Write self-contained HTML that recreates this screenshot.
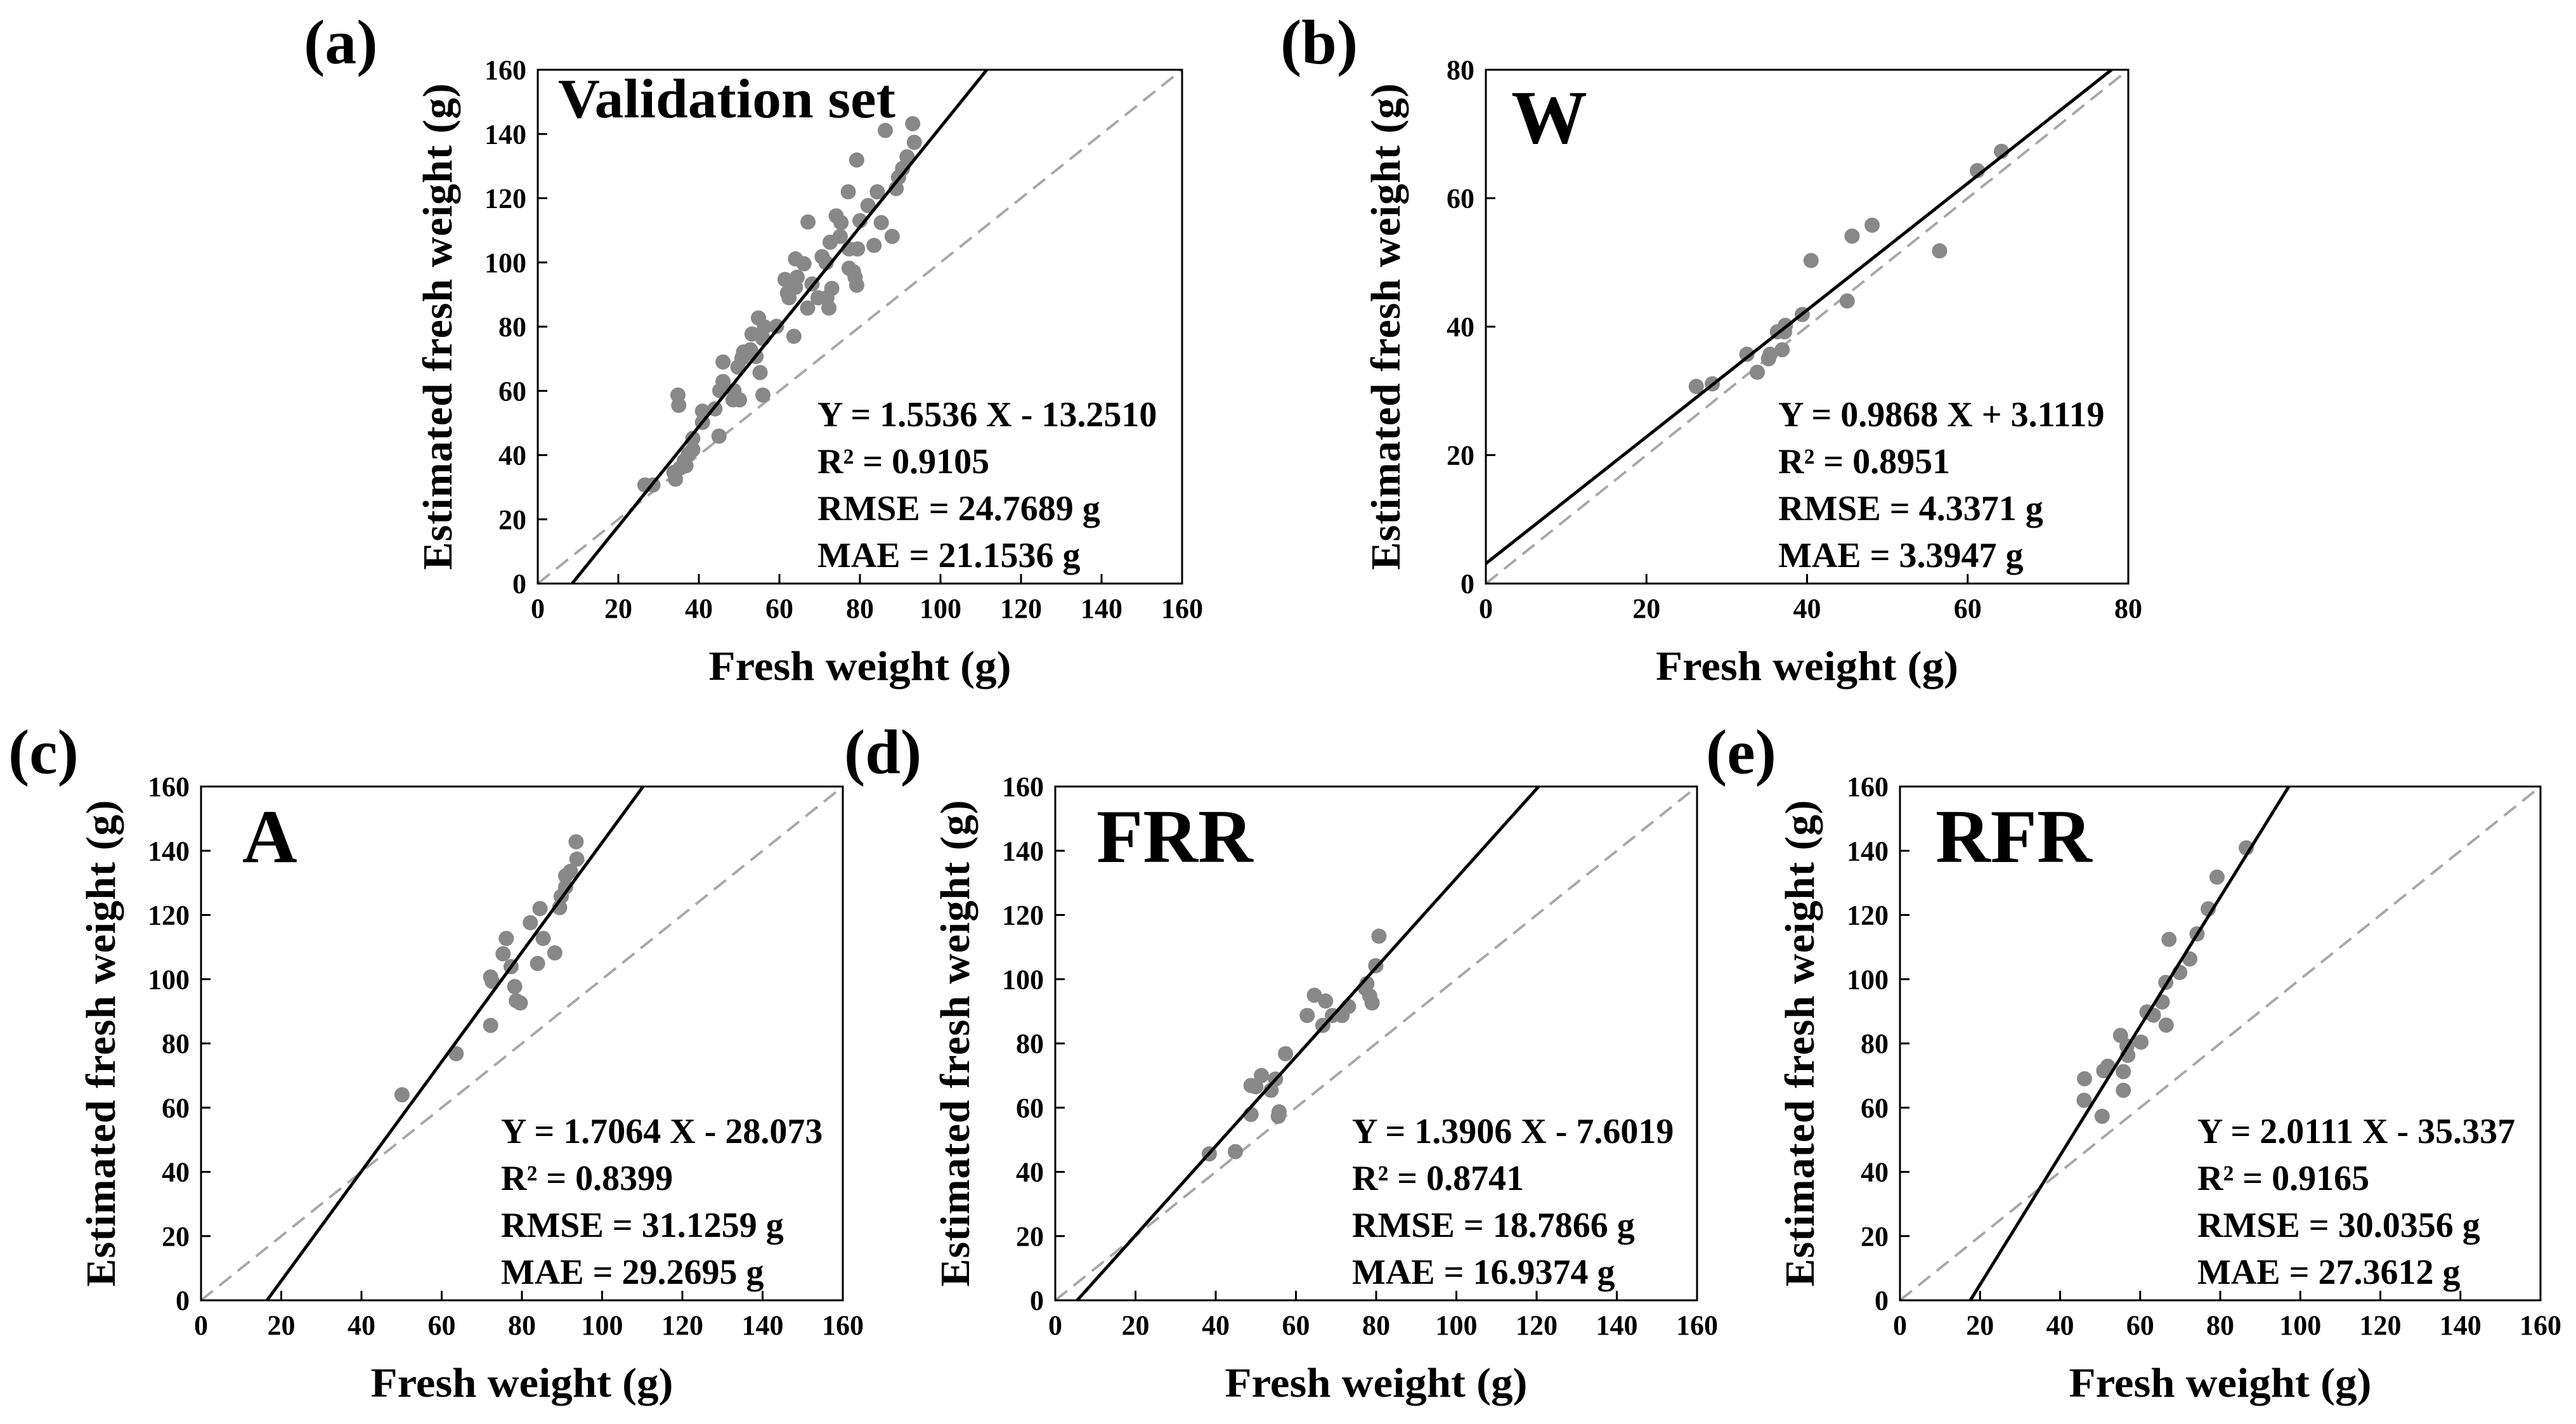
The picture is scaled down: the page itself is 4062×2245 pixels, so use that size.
<!DOCTYPE html>
<html><head><meta charset="utf-8"><style>
html,body{margin:0;padding:0;background:#fff;}
svg{display:block;}
text{font-family:"Liberation Serif",serif;font-weight:bold;fill:#000;}
</style></head><body>
<svg id="fig" xmlns="http://www.w3.org/2000/svg" width="4062" height="2245" viewBox="0 0 4062 2245">
<rect width="4062" height="2245" fill="#fff"/>
</svg>
<script>
// ---- data ----
const aX=[93.1,86.3,93.5,79.2,91.7,90.6,89.6,89.0,77.1,84.3,82.0,85.3,67.1,74.1,75.3,80,75.1,88,72.6,83.5,79.4,77.3,64,66.1,70.6,71.6,77.3,78.4,64.4,61.4,68.1,78.8,79.2,69.6,71.8,62.4,62,67,72.3,64.0,73,63.6,54.8,56.3,59.3,55.9,52.8,51.1,54.2,46,49.7,50.7,55.2,46,45.2,48.7,55.9,48.5,50.1,34.8,35,40.9,44,40.9,38.5,45,38.5,37.4,36.4,35.4,36.8,33.8,34.2,26.6,28.6,53.2];
const aY=[143.2,141.1,137.4,131.9,132.9,129.3,126.5,123,122,122,117.7,112.4,112.6,114.5,112.4,113,108.1,108.1,106.3,105.3,104.2,104.2,101.1,99.6,101.8,99.9,98.2,97.1,95.4,94.7,93.3,95.4,92.9,89,89,89,90.5,85.8,85.8,92.3,91.9,77,82.7,79.9,80.1,76.3,72.8,72.1,70.7,69,67.4,70.2,65.7,62.9,60.1,60.1,58.7,57.2,57.2,58.7,55.5,53.7,54.4,50.2,45.2,45.9,41.7,40.3,38.2,36,36.7,34.6,32.5,30.7,30.7,77.7];
const bX=[64.2,61.2,48.1,45.6,40.5,56.5,45,39.4,37.3,36.3,37.2,32.5,35.2,35.4,36.9,33.8,26.2,28.2];
const bY=[67.3,64.3,55.8,54.1,50.3,51.8,44,41.9,40.2,39.2,39.2,35.7,35,35.7,36.4,32.9,30.7,31.1];
const cX=[93.5,93.7,92.1,90.9,90.9,89.8,89.4,84.5,82.1,76.1,85.3,75.3,88.2,83.9,77.3,72.2,72.6,78.2,78.6,79.6,72.2,63.6,50.1];
const cY=[142.8,137.4,133.6,132.2,128.7,125.8,122.3,122,117.6,112.7,112.7,107.9,108.2,104.9,103.9,100.7,99.3,97.7,93.3,92.6,85.6,76.8,64];
const dX=[80.7,79.9,77.7,77.3,78.4,79,64.6,67.4,62.8,69.1,71.5,73.1,66.7,57.4,51.4,54.9,48.8,50,53.8,55.8,55.6,48.8,38.4,44.9];
const dY=[113.4,104.2,98.6,97.2,94.8,92.6,95,93.2,88.7,88.7,88.7,91.5,85.6,76.8,70,68.9,66.9,66.5,65.4,58.7,57.3,57.9,45.6,46.3];
const eX=[86.5,79.2,77,74.2,67.2,72.4,69.9,66.4,65.5,61.7,63.3,66.5,60.2,56.7,55.1,56.9,51.9,50.9,55.8,46.1,46,55.8,50.5];
const eY=[140.9,131.8,121.9,114.1,112.4,106.3,102.1,99,92.9,89.8,88.8,85.7,80.4,79.2,82.5,76.3,72.9,71.5,71.2,69,62.3,65.4,57.3];
const fitSlope=[1.5536,0.9868,1.7064,1.3906,2.0111];
const fitIntercept=[-13.2510,3.1119,-28.073,-7.6019,-35.337];
const axisMax=[160,80,160,160,160];
const tickLabels160=["0","20","40","60","80","100","120","140","160"];
const tickLabels80=["0","20","40","60","80"];
const panelTitles=["Validation set","W","A","FRR","RFR"];
const panelTags=["(a)","(b)","(c)","(d)","(e)"];
const statLines=[
 ["Y = 1.5536 X - 13.2510","R² = 0.9105","RMSE = 24.7689 g","MAE = 21.1536 g"],
 ["Y = 0.9868 X + 3.1119","R² = 0.8951","RMSE = 4.3371 g","MAE = 3.3947 g"],
 ["Y = 1.7064 X - 28.073","R² = 0.8399","RMSE = 31.1259 g","MAE = 29.2695 g"],
 ["Y = 1.3906 X - 7.6019","R² = 0.8741","RMSE = 18.7866 g","MAE = 16.9374 g"],
 ["Y = 2.0111 X - 35.337","R² = 0.9165","RMSE = 30.0356 g","MAE = 27.3612 g"]];
const seriesX=[aX,bX,cX,dX,eX];
const seriesY=[aY,bY,cY,dY,eY];
// ---- layout ----
const boxes=[
 {l:848,t:110,w:1016,h:810,tagX:479,tagY:100,titleDx:32,titleDy:75,titleSize:88,titleLen:532,statDx:441},
 {l:2343,t:110,w:1013,h:810,tagX:2019,tagY:100,titleDx:40,titleDy:115,titleSize:120,titleLen:0,statDx:461},
 {l:317,t:1240,w:1012,h:810,tagX:13,tagY:1219,titleDx:65,titleDy:119,titleSize:120,titleLen:0,statDx:473},
 {l:1664,t:1240,w:1012,h:810,tagX:1331,tagY:1219,titleDx:65,titleDy:119,titleSize:120,titleLen:0,statDx:468},
 {l:2996,t:1240,w:1010,h:810,tagX:2690,tagY:1219,titleDx:56,titleDy:119,titleSize:120,titleLen:0,statDx:469}];
const NS="http://www.w3.org/2000/svg";
const svg=document.getElementById('fig');
function mk(tag,attrs,parent){const e=document.createElementNS(NS,tag);for(const k in attrs)e.setAttribute(k,attrs[k]);(parent||svg).appendChild(e);return e;}
boxes.forEach((b,i)=>{
 const max=axisMax[i];
 const sx=v=>b.l+v/max*b.w;
 const sy=v=>b.t+b.h-v/max*b.h;
 const g=mk('g',{});
 
 
 const tag=mk('text',{x:b.tagX,y:b.tagY,'font-size':100},g);
 tag.textContent=panelTags[i];
 
 
 const cp=mk('clipPath',{id:'cp'+i},g);
 mk('rect',{x:b.l,y:b.t,width:b.w,height:b.h},cp);
 // identity line
 const dl=mk('line',{x1:sx(0),y1:sy(0),x2:sx(max),y2:sy(max),stroke:'#a8a8a8','stroke-width':4,'stroke-dasharray':'24 13','clip-path':'url(#cp'+i+')'},g);
 
 
 // points
 const xs=seriesX[i],ys=seriesY[i];
 xs.forEach((x,j)=>{
  const c=mk('circle',{cx:sx(x),cy:sy(ys[j]),r:12,fill:'#888888'},g);
  
  
 });
 // fit line
 const m=fitSlope[i],k=fitIntercept[i];
 const fl=mk('line',{x1:sx(0),y1:sy(k),x2:sx(max),y2:sy(m*max+k),stroke:'#000','stroke-width':5,'clip-path':'url(#cp'+i+')'},g);
 
 
 // frame
 const fr=mk('rect',{x:b.l,y:b.t,width:b.w,height:b.h,fill:'none',stroke:'#000','stroke-width':3},g);
 
 
 // ticks
 const labels=max===80?tickLabels80:tickLabels160;
 labels.forEach(lab=>{
  const v=+lab;
  mk('line',{x1:sx(v),y1:b.t+b.h,x2:sx(v),y2:b.t+b.h-15,stroke:'#000','stroke-width':3},g);
  mk('line',{x1:b.l,y1:sy(v),x2:b.l+15,y2:sy(v),stroke:'#000','stroke-width':3},g);
  const tx=mk('text',{x:sx(v),y:b.t+b.h+54,'font-size':44,'text-anchor':'middle'},g);
  tx.textContent=lab;
  
  
  const ty=mk('text',{x:b.l-18,y:sy(v)+15,'font-size':44,'text-anchor':'end'},g);
  ty.textContent=lab;
  
  
 });
 // axis titles
 const xt=mk('text',{x:b.l+b.w/2,y:b.t+b.h+152,'font-size':66,'text-anchor':'middle',textLength:477,lengthAdjust:'spacingAndGlyphs'},g);
 xt.textContent='Fresh weight (g)';
 
 
 const yx=b.l-136,yy=b.t+b.h/2;
 const yt=mk('text',{x:yx,y:yy,'font-size':66,'text-anchor':'middle',textLength:767,lengthAdjust:'spacing',transform:'rotate(-90 '+yx+' '+yy+')'},g);
 yt.textContent='Estimated fresh weight (g)';
 
 
 // panel title
 const ptAttrs={x:b.l+b.titleDx,y:b.t+b.titleDy,'font-size':b.titleSize};
 if(b.titleLen){ptAttrs.textLength=b.titleLen;ptAttrs.lengthAdjust='spacingAndGlyphs';}
 const pt=mk('text',ptAttrs,g);
 pt.textContent=panelTitles[i];
 
 
 // stats
 statLines[i].forEach((s,j)=>{
  const st=mk('text',{x:b.l+b.statDx,y:b.t+562+j*74,'font-size':56},g);
  st.textContent=s;
  
  
 });
});
</script>
</body></html>
